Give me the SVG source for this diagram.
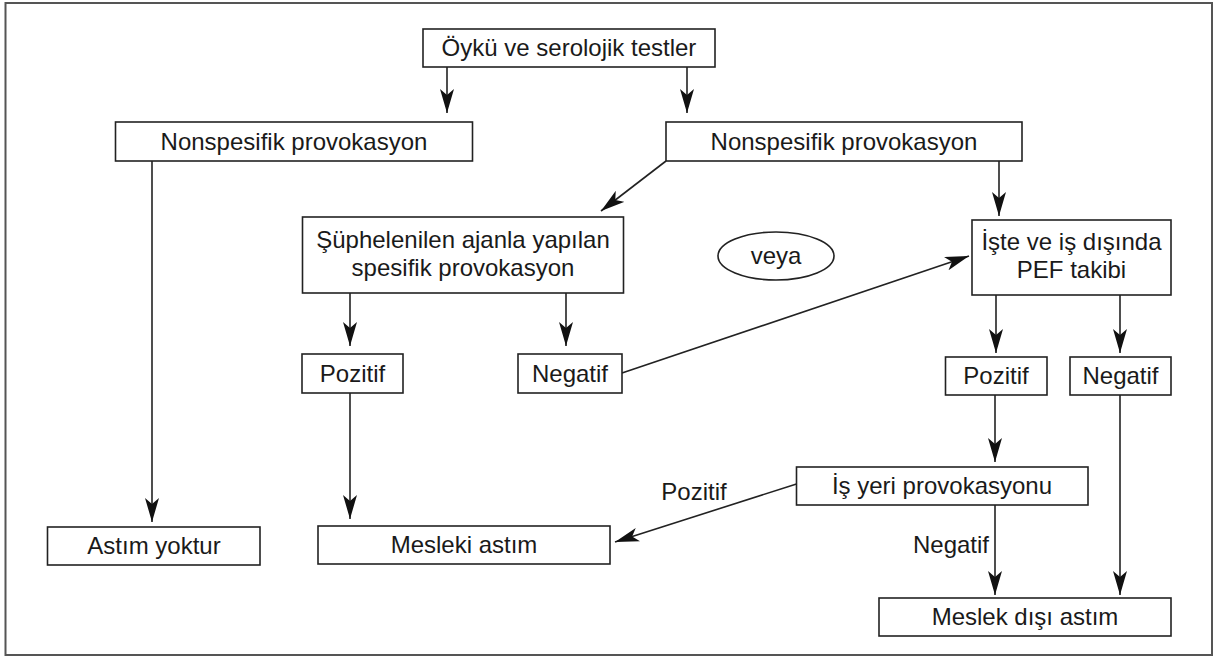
<svg xmlns="http://www.w3.org/2000/svg" width="1215" height="658" viewBox="0 0 1215 658">
<style>
.box{fill:#fff;stroke:#222;stroke-width:1.6}
.ell{fill:#fff;stroke:#222;stroke-width:1.6}
.t{font-family:"Liberation Sans",Arial,sans-serif;font-size:24px;fill:#1a1a1a;text-anchor:middle}
.c{fill:none;stroke:#222;stroke-width:1.6}
</style>
<defs>
<marker id="ah" markerUnits="userSpaceOnUse" viewBox="0 0 24 14" markerWidth="24" markerHeight="14" refX="24" refY="7" orient="auto">
<path d="M0,0 L24,7 L0,14 L6,7 Z" fill="#111"/>
</marker>
</defs>
<rect x="5.5" y="3" width="1206.5" height="652" fill="#fff" stroke="#555" stroke-width="2"/>

<g id="connectors">
<line class="c" x1="447" y1="67" x2="447" y2="113" marker-end="url(#ah)"/>
<line class="c" x1="687" y1="67" x2="687" y2="113" marker-end="url(#ah)"/>
<line class="c" x1="152" y1="161" x2="152" y2="522" marker-end="url(#ah)"/>
<line class="c" x1="666" y1="161" x2="601" y2="211" marker-end="url(#ah)"/>
<line class="c" x1="999" y1="161" x2="999" y2="216" marker-end="url(#ah)"/>
<line class="c" x1="350" y1="293" x2="350" y2="346" marker-end="url(#ah)"/>
<line class="c" x1="566" y1="293" x2="566" y2="346" marker-end="url(#ah)"/>
<line class="c" x1="622" y1="373" x2="969" y2="256" marker-end="url(#ah)"/>
<line class="c" x1="996" y1="295" x2="996" y2="353" marker-end="url(#ah)"/>
<line class="c" x1="1120" y1="295" x2="1120" y2="353" marker-end="url(#ah)"/>
<line class="c" x1="350" y1="393" x2="350" y2="519" marker-end="url(#ah)"/>
<line class="c" x1="995" y1="395" x2="995" y2="462" marker-end="url(#ah)"/>
<line class="c" x1="796.5" y1="484" x2="615" y2="542" marker-end="url(#ah)"/>
<line class="c" x1="995" y1="505" x2="995" y2="595" marker-end="url(#ah)"/>
<line class="c" x1="1120" y1="395" x2="1120" y2="595" marker-end="url(#ah)"/>
<text class="t" x="694" y="500">Pozitif</text>
<text class="t" x="951" y="553">Negatif</text>
</g>

<g id="n-top"><rect class="box" x="423" y="29" width="292" height="38"/><text class="t" x="569" y="56">Öykü ve serolojik testler</text></g>
<g id="n-np-left"><rect class="box" x="115.5" y="122" width="357" height="39"/><text class="t" x="294" y="150">Nonspesifik provokasyon</text></g>
<g id="n-np-right"><rect class="box" x="666" y="122" width="356" height="39"/><text class="t" x="844" y="150">Nonspesifik provokasyon</text></g>
<g id="n-suphe"><rect class="box" x="302.5" y="217" width="321" height="76"/><text class="t" x="463" y="248">Şüphelenilen ajanla yapılan</text><text class="t" x="463" y="276">spesifik provokasyon</text></g>
<g id="n-veya"><ellipse class="ell" cx="776" cy="256" rx="58" ry="24"/><text class="t" x="776" y="264">veya</text></g>
<g id="n-pef"><rect class="box" x="972" y="220" width="199" height="75"/><text class="t" x="1071.5" y="250">İşte ve iş dışında</text><text class="t" x="1071.5" y="278">PEF takibi</text></g>
<g id="n-poz-left"><rect class="box" x="302" y="354" width="101" height="39"/><text class="t" x="352.5" y="382">Pozitif</text></g>
<g id="n-neg-left"><rect class="box" x="518" y="354" width="104" height="39"/><text class="t" x="570" y="382">Negatif</text></g>
<g id="n-poz-right"><rect class="box" x="945.5" y="357" width="101.5" height="38"/><text class="t" x="996" y="384">Pozitif</text></g>
<g id="n-neg-right"><rect class="box" x="1070" y="357" width="101" height="38"/><text class="t" x="1120.5" y="384">Negatif</text></g>
<g id="n-isyeri"><rect class="box" x="796.5" y="467" width="291.5" height="38"/><text class="t" x="942" y="494">İş yeri provokasyonu</text></g>
<g id="n-astim-yok"><rect class="box" x="47.5" y="527" width="212.5" height="38"/><text class="t" x="154" y="554">Astım yoktur</text></g>
<g id="n-mesleki"><rect class="box" x="318" y="526" width="292" height="38"/><text class="t" x="464" y="553">Mesleki astım</text></g>
<g id="n-meslek-disi"><rect class="box" x="879" y="598" width="292" height="38"/><text class="t" x="1025" y="625">Meslek dışı astım</text></g>
</svg>
